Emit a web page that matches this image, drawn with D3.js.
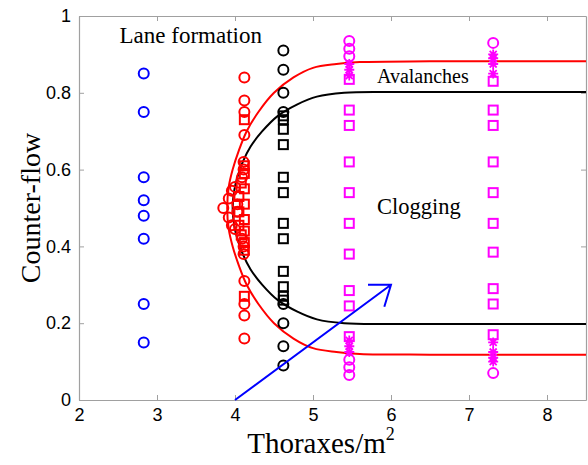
<!DOCTYPE html>
<html>
<head>
<meta charset="utf-8">
<script src="https://cdn.jsdelivr.net/npm/d3@7"></script>
<style>
  body { margin: 0; background: #fff; }
  svg { display: block; }
</style>
</head>
<body>
<svg id="chart" width="588" height="465"></svg>
<script>
// Axis ticks
const xTicks = [2, 3, 4, 5, 6, 7, 8];
const yTicks = [0, 0.2, 0.4, 0.6, 0.8, 1];

// Blue circles (low density)
const blueX = 2.83;
const blueCircles = [0.85, 0.75, 0.58, 0.52, 0.48, 0.42, 0.25, 0.15];

// Red markers near the bifurcation: [density, counter-flow]
const redCircles = [
  [4.12, 0.84], [4.12, 0.78], [4.12, 0.75], [4.12, 0.69],
  [4.11, 0.62], [4.11, 0.60], [4.09, 0.58], [4.00, 0.555], [3.96, 0.545],
  [3.92, 0.525], [3.85, 0.50], [3.92, 0.475], [3.96, 0.455], [4.00, 0.445],
  [4.03, 0.51], [4.03, 0.49],
  [4.09, 0.42], [4.11, 0.40], [4.11, 0.38],
  [4.12, 0.31], [4.12, 0.25], [4.12, 0.22], [4.12, 0.16]
];
const redSquares = [
  [4.12, 0.73], [4.12, 0.61], [4.12, 0.59], [4.08, 0.565], [4.12, 0.55],
  [4.05, 0.53], [4.12, 0.51], [4.05, 0.49], [4.12, 0.47], [4.05, 0.455],
  [4.12, 0.44], [4.08, 0.43], [4.12, 0.41], [4.12, 0.39], [4.12, 0.27]
];

// Black markers
const blackX = 4.62;
const blackCircles = [0.91, 0.86, 0.80, 0.75, 0.25, 0.20, 0.14, 0.09];
const blackSquares = [0.74, 0.73, 0.705, 0.665, 0.58, 0.54, 0.46, 0.42, 0.335, 0.295, 0.27, 0.26];

// Magenta markers, two densities
const magX1 = 5.465;
const mag1Circles = [0.935, 0.915, 0.895, 0.105, 0.085, 0.065];
const mag1Stars = [0.875, 0.86, 0.845, 0.155, 0.14, 0.125];
const mag1Squares = [0.835, 0.755, 0.715, 0.62, 0.54, 0.46, 0.38, 0.285, 0.245, 0.165];

const magX2 = 7.31;
const mag2Circles = [0.93, 0.07];
const mag2Stars = [0.90, 0.89, 0.875, 0.85, 0.15, 0.125, 0.11, 0.10];
const mag2Squares = [0.83, 0.755, 0.715, 0.62, 0.54, 0.46, 0.385, 0.29, 0.25, 0.17];

// Boundary curves (density, counter-flow)
const redCurve = [
  [8.5, 0.882], [6.5, 0.882], [5.6, 0.88], [5.3, 0.875], [5.0, 0.865], [4.75, 0.84],
  [4.5, 0.80], [4.3, 0.75], [4.15, 0.70], [4.05, 0.65], [3.97, 0.60], [3.92, 0.555],
  [3.9, 0.5],
  [3.92, 0.445], [3.97, 0.40], [4.05, 0.35], [4.15, 0.30], [4.3, 0.25], [4.5, 0.20],
  [4.75, 0.16], [5.0, 0.135], [5.3, 0.125], [5.6, 0.12], [6.5, 0.118], [8.5, 0.118]
];
const blackCurve = [
  [8.5, 0.802], [6.0, 0.802], [5.4, 0.80], [5.05, 0.79], [4.8, 0.77], [4.55, 0.74],
  [4.35, 0.70], [4.2, 0.66], [4.1, 0.62], [4.03, 0.58], [3.99, 0.545],
  [3.97, 0.5],
  [3.99, 0.455], [4.03, 0.42], [4.1, 0.38], [4.2, 0.34], [4.35, 0.30], [4.55, 0.26],
  [4.8, 0.23], [5.05, 0.21], [5.4, 0.20], [6.0, 0.198], [8.5, 0.198]
];

// Arrow across the phase diagram
const arrowFrom = [4, 0];
const arrowTo = [6, 0.3];

const width = 588, height = 465;
const margin = { top: 16, right: 2, bottom: 65, left: 79 };

const svg = d3.select("#chart");
const x = d3.scaleLinear().domain([2, 8.5]).range([margin.left, width - margin.right]);
const y = d3.scaleLinear().domain([0, 1]).range([height - margin.bottom, margin.top]);

const frameColor = "#a0a0a0";
const tickLen = 5;

// Axes with inward ticks on all four sides
const gx = svg.append("g").attr("transform", `translate(0,${y(0)})`)
  .call(d3.axisBottom(x).tickValues(xTicks).tickSizeInner(-tickLen).tickSizeOuter(0).tickPadding(8).tickFormat(d3.format("d")));
const gxTop = svg.append("g").attr("transform", `translate(0,${y(1)})`)
  .call(d3.axisTop(x).tickValues(xTicks).tickSizeInner(-tickLen).tickSizeOuter(0).tickFormat(""));
const gy = svg.append("g").attr("transform", `translate(${x(2)},0)`)
  .call(d3.axisLeft(y).tickValues(yTicks).tickSizeInner(-tickLen).tickSizeOuter(0).tickPadding(8).tickFormat(d => d === 0 ? "0" : d === 1 ? "1" : d3.format(".1f")(d)));
const gyRight = svg.append("g").attr("transform", `translate(${x(8.5)},0)`)
  .call(d3.axisRight(y).tickValues(yTicks).tickSizeInner(-tickLen).tickSizeOuter(0).tickFormat(""));

[gx, gxTop, gy, gyRight].forEach(g => {
  g.selectAll(".domain").attr("stroke", frameColor).attr("stroke-width", 1.2);
  g.selectAll(".tick line").attr("stroke", frameColor).attr("stroke-width", 1);
  g.selectAll(".tick text").attr("fill", "#000")
    .attr("font-family", "'Liberation Sans', Arial, sans-serif").attr("font-size", 18);
});

// Plot contents
const plot = svg.append("g");

const line = d3.line().x(d => x(d[0])).y(d => y(d[1])).curve(d3.curveCatmullRom.alpha(0.5));
plot.append("path").datum(blackCurve).attr("d", line)
  .attr("fill", "none").attr("stroke", "#000").attr("stroke-width", 2);
plot.append("path").datum(redCurve).attr("d", line)
  .attr("fill", "none").attr("stroke", "#ff0000").attr("stroke-width", 2);

function circles(data, color) {
  plot.append("g").selectAll("circle").data(data).join("circle")
    .attr("cx", d => x(d[0])).attr("cy", d => y(d[1])).attr("r", 5)
    .attr("fill", "none").attr("stroke", color).attr("stroke-width", 2);
}
function squares(data, color) {
  const s = 9;
  plot.append("g").selectAll("rect").data(data).join("rect")
    .attr("x", d => x(d[0]) - s / 2).attr("y", d => y(d[1]) - s / 2)
    .attr("width", s).attr("height", s)
    .attr("fill", "none").attr("stroke", color).attr("stroke-width", 2);
}
function stars(data, color) {
  const r = 5;
  const g = plot.append("g").selectAll("g").data(data).join("g")
    .attr("transform", d => `translate(${x(d[0])},${y(d[1])})`);
  g.append("path")
    .attr("d", `M${-r},0H${r}M0,${-r}V${r}M${-r * 0.7},${-r * 0.7}L${r * 0.7},${r * 0.7}M${-r * 0.7},${r * 0.7}L${r * 0.7},${-r * 0.7}`)
    .attr("stroke", color).attr("stroke-width", 1.8).attr("fill", "none");
}
const at = (xv, ys) => ys.map(v => [xv, v]);

circles(at(blueX, blueCircles), "#0000ff");
circles(redCircles, "#ff0000");
squares(redSquares, "#ff0000");
circles(at(blackX, blackCircles), "#000");
squares(at(blackX, blackSquares), "#000");
circles(at(magX1, mag1Circles), "#ff00ff");
squares(at(magX1, mag1Squares), "#ff00ff");
stars(at(magX1, mag1Stars), "#ff00ff");
circles(at(magX2, mag2Circles), "#ff00ff");
squares(at(magX2, mag2Squares), "#ff00ff");
stars(at(magX2, mag2Stars), "#ff00ff");

// Arrow with an open head
const ax0 = x(arrowFrom[0]), ay0 = y(arrowFrom[1]), ax1 = x(arrowTo[0]), ay1 = y(arrowTo[1]);
const ang = Math.atan2(ay1 - ay0, ax1 - ax0);
const headLen = 23, headAng = 0.64;
plot.append("path")
  .attr("d", `M${ax0},${ay0}L${ax1},${ay1}` +
    `M${ax1 - headLen * Math.cos(ang - headAng)},${ay1 - headLen * Math.sin(ang - headAng)}L${ax1},${ay1}` +
    `L${ax1 - headLen * Math.cos(ang + headAng)},${ay1 - headLen * Math.sin(ang + headAng)}`)
  .attr("fill", "none").attr("stroke", "#0000ff").attr("stroke-width", 2);

// Region labels
const serif = "'Liberation Serif', 'Times New Roman', serif";
svg.append("text").attr("x", x(2.52)).attr("y", y(0.93)).text("Lane formation")
  .attr("font-family", serif).attr("font-size", 23).attr("fill", "#000");
svg.append("text").attr("x", x(5.82)).attr("y", y(0.825)).text("Avalanches")
  .attr("font-family", serif).attr("font-size", 20).attr("fill", "#000");
svg.append("text").attr("x", x(5.82)).attr("y", y(0.485)).text("Clogging")
  .attr("font-family", serif).attr("font-size", 22.5).attr("fill", "#000");

// Axis titles
const xt = svg.append("text").attr("x", 321).attr("y", 453).attr("text-anchor", "middle")
  .attr("font-family", serif).attr("font-size", 29).attr("fill", "#000");
xt.append("tspan").text("Thoraxes/m");
xt.append("tspan").text("2").attr("font-size", 18).attr("dy", -13);

svg.append("text").attr("transform", `translate(40,${(y(0) + y(1)) / 2}) rotate(-90)`)
  .attr("text-anchor", "middle").attr("font-family", serif).attr("font-size", 28).attr("fill", "#000")
  .text("Counter-flow");
</script>
</body>
</html>
